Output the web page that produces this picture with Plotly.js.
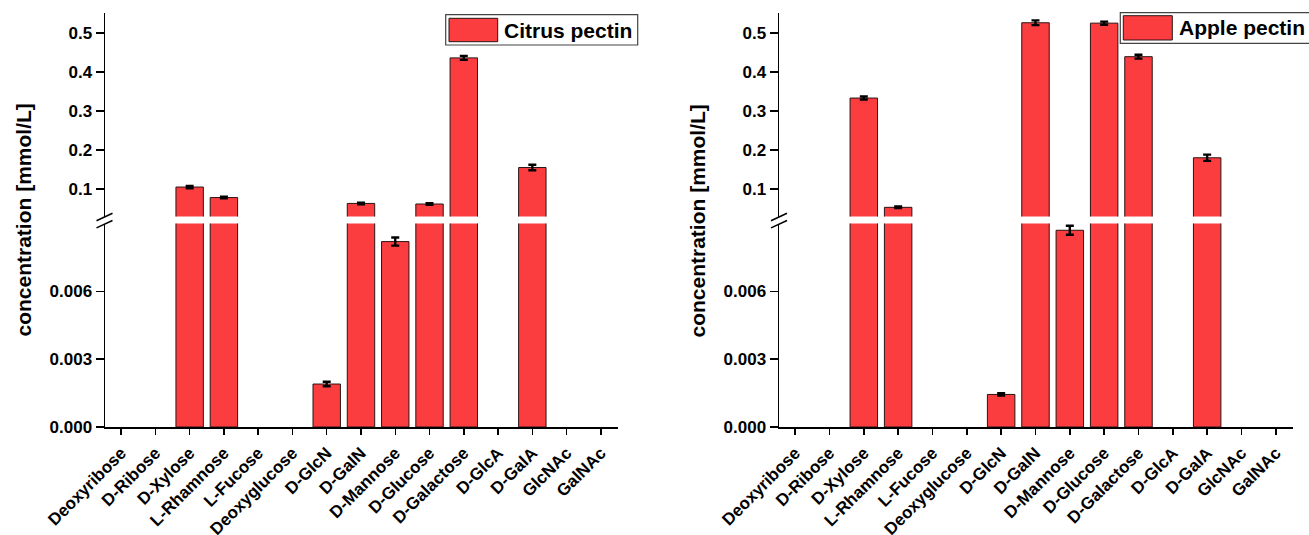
<!DOCTYPE html>
<html>
<head>
<meta charset="utf-8">
<script src="https://cdn.plot.ly/plotly-3.0.1.min.js"></script>
<style>html,body{margin:0;padding:0;background:#fff;}#chart{width:1309px;height:535px;}</style>
</head>
<body>
<div id="chart"></div>
<script>
// ---- data ----
var categories = ['Deoxyribose','D-Ribose','D-Xylose','L-Rhamnose','L-Fucose','Deoxyglucose','D-GlcN','D-GalN','D-Mannose','D-Glucose','D-Galactose','D-GlcA','D-GalA','GlcNAc','GalNAc'];
var citrus    = [0, 0, 0.105, 0.078, 0, 0, 0.0019, 0.063, 0.0082, 0.0615, 0.436, 0, 0.155, 0, 0];
var citrusErr = [0, 0, 0.003, 0.002, 0, 0, 0.0001, 0.002, 0.00018, 0.002, 0.005, 0, 0.007, 0, 0];
var apple     = [0, 0, 0.333, 0.053, 0, 0, 0.00144, 0.526, 0.0087, 0.525, 0.439, 0, 0.180, 0, 0];
var appleErr  = [0, 0, 0.004, 0.002, 0, 0, 0.00005, 0.006, 0.0002, 0.004, 0.005, 0, 0.008, 0, 0];
var seriesNames = ['Citrus pectin', 'Apple pectin'];
var lowerTicks = [0, 0.003, 0.006];
var upperTicks = [0.1, 0.2, 0.3, 0.4, 0.5];
var yTitle = 'concentration [mmol/L]';

// ---- styling ----
var W = 1309, H = 535;
var FONT = 'Liberation Sans, Arial, Helvetica, sans-serif';
var RED = '#fc3d40';
function px(x){ return x / W; }
function py(y){ return (H - y) / H; }

var xIdx = categories.map(function(_, i){ return i; });

function barTrace(vals, errs, xa, ya){
  return {
    type: 'bar', x: xIdx, y: vals, xaxis: xa, yaxis: ya,
    width: 0.8,
    marker: {color: RED, line: {color: '#2a1414',
      width: vals.map(function(v){ return v === 0 ? 0 : 1; })}},
    error_y: {type: 'data', visible: true, color: '#000', thickness: 2.4, width: 4,
      array: errs.map(function(e, i){ return vals[i] === 0 ? NaN : e; })},
    showlegend: false, hoverinfo: 'x+y'
  };
}

var data = [
  barTrace(citrus, citrusErr, 'x', 'y'),
  barTrace(citrus, citrusErr, 'x', 'y2'),
  barTrace(apple, appleErr, 'x2', 'y3'),
  barTrace(apple, appleErr, 'x2', 'y4')
];

var lowerDom = [py(427), py(223.5)];
var upperDom = [py(216.5), py(13)];

function xAxis(dom, anchor){
  return {
    domain: dom, anchor: anchor, range: [-0.47, 14.5],
    tickmode: 'array', tickvals: xIdx, ticktext: categories,
    tickangle: -45, ticks: 'outside', ticklen: 6, tickwidth: 1.5, tickcolor: '#000',
    ticklabelstandoff: 2,
    showline: true, linecolor: '#000', linewidth: 1.5, showgrid: false, zeroline: false,
    tickfont: {family: FONT, size: 17, color: '#000', weight: 'bold'}
  };
}
function yLower(anchor){
  return {
    domain: lowerDom, anchor: anchor, range: [0, 0.009],
    tickmode: 'array', tickvals: lowerTicks, tickformat: '.3f',
    ticks: 'outside', ticklen: 8, tickwidth: 1.5, tickcolor: '#000',
    showline: true, linecolor: '#000', linewidth: 1.5, showgrid: false, zeroline: false,
    tickfont: {family: FONT, size: 17, color: '#000', weight: 'bold'}
  };
}
function yUpper(anchor){
  return {
    domain: upperDom, anchor: anchor, range: [0.0295, 0.551],
    tickmode: 'array', tickvals: upperTicks, tickformat: '.1f',
    ticks: 'outside', ticklen: 8, tickwidth: 1.5, tickcolor: '#000',
    showline: true, linecolor: '#000', linewidth: 1.5, showgrid: false, zeroline: false,
    tickfont: {family: FONT, size: 17, color: '#000', weight: 'bold'}
  };
}

function breakMarks(ax){
  var s = [];
  [217, 224.2].forEach(function(cy){
    s.push({type: 'line', xref: 'paper', yref: 'paper',
      x0: px(ax - 8), y0: py(cy + 3.7), x1: px(ax + 8), y1: py(cy - 3.7),
      line: {color: '#000', width: 1.5}});
  });
  return s;
}
function legendShapes(bx0, by0, bx1, by1, sx0, sy0, sx1, sy1){
  return [
    {type: 'rect', xref: 'paper', yref: 'paper', x0: px(bx0), x1: px(bx1), y0: py(by1), y1: py(by0),
      line: {color: '#444', width: 1.2}, fillcolor: '#fff'},
    {type: 'rect', xref: 'paper', yref: 'paper', x0: px(sx0), x1: px(sx1), y0: py(sy1), y1: py(sy0),
      line: {color: '#2a1414', width: 1}, fillcolor: RED}
  ];
}

var shapes = [].concat(
  breakMarks(104.5), breakMarks(779),
  legendShapes(445.7, 14.7, 637.7, 45, 449, 18.3, 497.7, 41.7),
  legendShapes(1120.3, 12.7, 1320, 43.3, 1123.3, 15.7, 1172.3, 40)
);

var annFont = {family: FONT, size: 21, color: '#000', weight: 'bold'};
var annotations = [
  {text: yTitle, xref: 'paper', yref: 'paper', x: px(23), y: py(220.5), textangle: -90,
    showarrow: false, xanchor: 'center', yanchor: 'middle', font: annFont},
  {text: yTitle, xref: 'paper', yref: 'paper', x: px(697), y: py(220.5), textangle: -90,
    showarrow: false, xanchor: 'center', yanchor: 'middle', font: annFont},
  {text: seriesNames[0], xref: 'paper', yref: 'paper', x: px(502), y: py(30), showarrow: false,
    xanchor: 'left', yanchor: 'middle', font: annFont},
  {text: seriesNames[1], xref: 'paper', yref: 'paper', x: px(1177), y: py(28), showarrow: false,
    xanchor: 'left', yanchor: 'middle', font: annFont}
];

var layout = {
  width: W, height: H,
  margin: {l: 0, r: 0, t: 0, b: 0},
  paper_bgcolor: '#fff', plot_bgcolor: 'rgba(0,0,0,0)',
  showlegend: false,
  font: {family: FONT, color: '#000'},
  xaxis: xAxis([px(105), px(618)], 'y'),
  yaxis: yLower('x'),
  yaxis2: yUpper('x'),
  xaxis2: xAxis([px(779), px(1293)], 'y3'),
  yaxis3: yLower('x2'),
  yaxis4: yUpper('x2'),
  shapes: shapes,
  annotations: annotations
};

Plotly.newPlot('chart', data, layout, {staticPlot: true, displayModeBar: false});
</script>
</body>
</html>
